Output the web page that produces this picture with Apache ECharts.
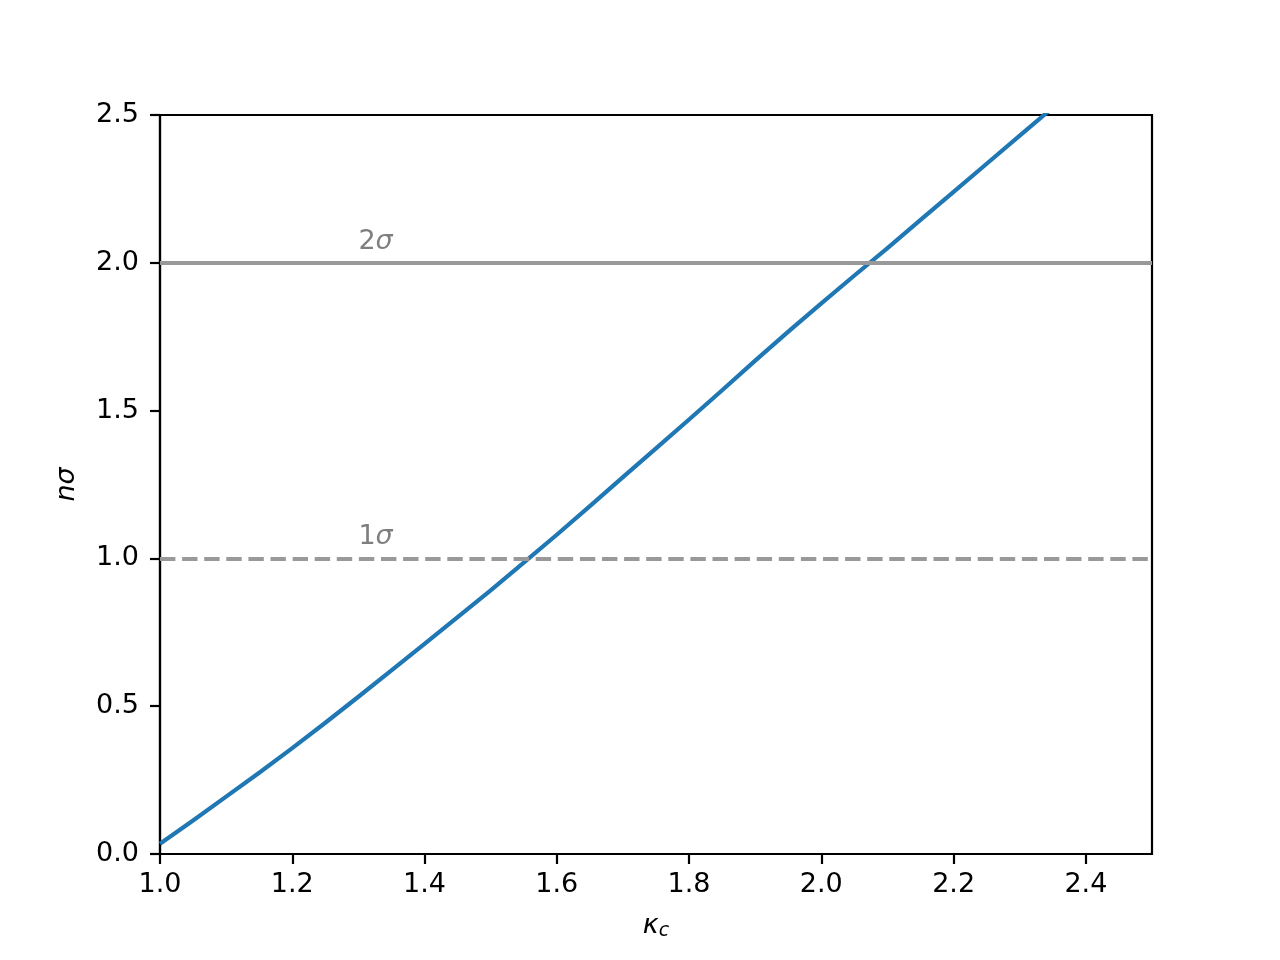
<!DOCTYPE html>
<html>
<head>
<meta charset="utf-8">
<script src="https://cdn.jsdelivr.net/npm/echarts@6/dist/echarts.min.js"></script>
<style>html,body{margin:0;padding:0;background:#fff;}#chart{width:1280px;height:960px;}</style>
</head>
<body>
<div id="chart"></div>
<script>
const kappa = [1.0, 1.05, 1.1, 1.15, 1.2, 1.25, 1.3, 1.35, 1.4, 1.45, 1.5, 1.55, 1.6, 1.65, 1.7, 1.75, 1.8, 1.85, 1.9, 1.95, 2.0, 2.05, 2.1, 2.15, 2.2, 2.25, 2.3, 2.35, 2.4];
const nsigma = [0.035, 0.113, 0.194, 0.275, 0.358, 0.444, 0.532, 0.621, 0.711, 0.801, 0.892, 0.986, 1.08, 1.177, 1.275, 1.372, 1.47, 1.569, 1.669, 1.767, 1.863, 1.957, 2.05, 2.145, 2.24, 2.335, 2.43, 2.525, 2.62];
const sigmaLevels = [1, 2];
const sigmaDigits = ['1', '2'];
const labelX = 1.3;
const labelOffset = 0.05;
const xTicks = [1.0, 1.2, 1.4, 1.6, 1.8, 2.0, 2.2, 2.4];
const yTicks = [0.0, 0.5, 1.0, 1.5, 2.0, 2.5];

const chart = echarts.init(document.getElementById('chart'), null, {renderer: 'canvas'});
const font = 'DejaVu Sans';
const FS = 27;
const option = {
  animation: false,
  backgroundColor: '#ffffff',
  grid: {left: 160, right: 128, top: 115, bottom: 106, show: true, borderColor: '#000', borderWidth: 2.2, backgroundColor: 'transparent'},
  xAxis: {
    type: 'value', min: 1.0, max: 2.5, interval: 0.2,
    axisLine: {show: true, lineStyle: {color: '#000', width: 2.2}},
    axisTick: {show: true, length: 10, lineStyle: {color: '#000', width: 2.2}},
    splitLine: {show: false},
    axisLabel: {show: true, showMaxLabel: false, color: '#000', fontFamily: font, fontSize: FS, margin: 17,
      formatter: v => xTicks.some(t => Math.abs(t - v) < 1e-9) ? v.toFixed(1) : ''},
    name: '{k|κ}{s|c}', nameLocation: 'middle', nameGap: 56,
    nameTextStyle: {rich: {k: {fontFamily: font, fontSize: FS, fontStyle: 'italic', color: '#000'},
                           s: {fontFamily: font, fontSize: 19, fontStyle: 'italic', color: '#000', padding: [12, 0, 0, 0]}}}
  },
  yAxis: {
    type: 'value', min: 0, max: 2.5, interval: 0.5,
    axisLine: {show: true, lineStyle: {color: '#000', width: 2.2}},
    axisTick: {show: true, length: 10, lineStyle: {color: '#000', width: 2.2}},
    splitLine: {show: false},
    axisLabel: {color: '#000', fontFamily: font, fontSize: FS, margin: 21,
      formatter: v => yTicks.some(t => Math.abs(t - v) < 1e-9) ? v.toFixed(1) : ''},
    name: 'nσ', nameLocation: 'middle', nameGap: 80, nameRotate: 90,
    nameTextStyle: {fontFamily: font, fontSize: FS, fontStyle: 'italic', color: '#000'}
  },
  series: [
    {
      type: 'line', name: 'nsigma', showSymbol: false, symbol: 'none', clip: true,
      data: kappa.map((k, i) => [k, nsigma[i]]),
      lineStyle: {color: '#1f77b4', width: 4.2, join: 'round'}, z: 3
    },
    {
      type: 'line', name: 'levels', data: [], symbol: 'none',
      markLine: {
        silent: true, symbol: ['none', 'none'], label: {show: false},
        data: [
          {yAxis: sigmaLevels[1], lineStyle: {color: '#999999', width: 4.2, type: 'solid'}},
          {yAxis: sigmaLevels[0], lineStyle: {color: '#999999', width: 4.2, type: [15.4, 6.7]}}
        ]
      }, z: 2
    },
    {
      type: 'scatter', name: 'labels', symbolSize: 0, silent: true,
      data: sigmaLevels.map((s, i) => ({value: [labelX, s + labelOffset], name: sigmaDigits[i]})),
      label: {show: true, position: [0, 0], align: 'left', verticalAlign: 'bottom', offset: [0, 7],
        formatter: p => '{d|' + p.name + '}{g|σ}',
        rich: {d: {color: '#5e5e5e', fontFamily: font, fontSize: FS},
               g: {color: '#5e5e5e', fontFamily: font, fontSize: FS, fontStyle: 'italic'}}}, z: 4
    }
  ]
};
chart.setOption(option);
</script>
</body>
</html>
